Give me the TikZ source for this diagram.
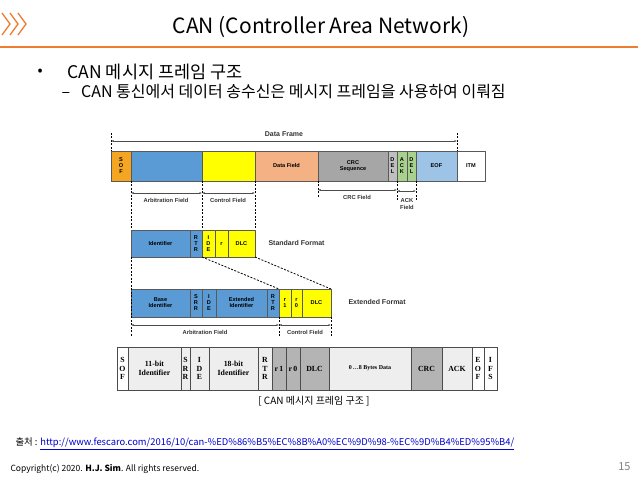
\documentclass[tikz,border=0pt]{standalone}
\usepackage{fontspec}
\setmainfont{Liberation Sans}
\newfontfamily\kr{Noto Sans CJK KR}
\newfontfamily\serifb{Liberation Serif}
\usetikzlibrary{arrows.meta}
\definecolor{org}{HTML}{ED7D31}
\definecolor{sof}{HTML}{F4A623}
\definecolor{blu}{HTML}{5B9BD5}
\definecolor{yel}{HTML}{FFFF00}
\definecolor{dat}{HTML}{F4B183}
\definecolor{crc}{HTML}{A6A6A6}
\definecolor{del}{HTML}{BFBFBF}
\definecolor{grn}{HTML}{A9D18E}
\definecolor{eof}{HTML}{9DC3E6}
\definecolor{lg}{HTML}{EEEEEE}
\definecolor{dg}{HTML}{B4B4B4}
\newcommand\fld[6]{\draw[draw=gray!70!black,line width=0.5pt,fill=#5] (#1,#3) rectangle (#2,#4);
  \node[font=\bfseries\fontsize{5.6}{6}\selectfont,align=center,inner sep=0pt] at ({(#1+#2)/2},{(#3+#4)/2}) {#6};}
\newcommand\tfld[6]{\draw[draw=gray!60!black,line width=0.5pt,fill=#5] (#1,#3) rectangle (#2,#4);
  \node[font=\serifb\bfseries\fontsize{7.8}{8.4}\selectfont,align=center,inner sep=0pt] at ({(#1+#2)/2},{(#3+#4)/2}) {#6};}
\tikzset{dl/.style={dashed,line width=0.8pt,dash pattern=on 2pt off 1.5pt},
  dim/.style={{Latex[length=2.5pt]}-{Latex[length=2.5pt]},line width=0.4pt,gray!60!black},
  lab/.style={font=\bfseries\fontsize{5.8}{6.6}\selectfont,align=center,text=black!80}}
\begin{document}
\begin{tikzpicture}[x=1pt,y=-1pt]
\useasboundingbox (0,0) rectangle (638,478);
% header
\foreach \dx in {0,8,16}{\draw[org,line width=1.3pt] (2+\dx,13) -- (10+\dx,24) -- (2+\dx,35);}
\node[font=\kr\fontsize{21}{21}\selectfont] (title) at (321,27) {CAN (Controller Area Network)};
\draw[org,line width=1.5pt] (0,47) -- (638,47);
\node[font=\kr\fontsize{15}{15}\selectfont,anchor=west] (b1) at (34,72) {•};
\node[font=\kr\fontsize{17.5}{17.5}\selectfont,anchor=west] (t1) at (64,72) {CAN 메시지 프레임 구조};
\node[font=\kr\fontsize{16}{16}\selectfont,anchor=west] (t2) at (58,92) {–\hspace{11pt}CAN 통신에서 데이터 송수신은 메시지 프레임을 사용하여 이뤄짐};
% top frame
\fld{111}{131}{151}{181}{sof}{S\\O\\F}
\fld{131}{202}{151}{181}{blu}{}
\fld{202}{255}{151}{181}{yel}{}
\fld{255}{318}{151}{181}{dat}{Data Field}
\fld{318}{388}{151}{181}{crc}{CRC\\Sequence}
\fld{388}{397}{151}{181}{del}{D\\E\\L}
\fld{397}{407}{151}{181}{grn}{A\\C\\K}
\fld{407}{416}{151}{181}{grn}{D\\E\\L}
\fld{416}{457}{151}{181}{eof}{EOF}
\fld{457}{485}{151}{181}{white}{ITM}
\draw[dl] (111,133) -- (111,151); \draw[dl] (457,133) -- (457,151);
\draw[dim] (111,141) -- (457,141);
\node[lab,font=\bfseries\fontsize{7}{7}\selectfont] at (284,134) {Data Frame};
\draw[dl] (131,181) -- (131,230); \draw[dl] (202,181) -- (202,230); \draw[dl] (255,181) -- (255,230);
\draw[dl] (318,181) -- (318,197); \draw[dl] (397,181) -- (397,200); \draw[dl] (416,181) -- (416,200);
\draw[dim] (131,193) -- (202,193); \draw[dim] (202,193) -- (255,193);
\draw[dim] (318,190) -- (397,190); \draw[dim] (397,191) -- (416,191);
\node[lab] at (166,200) {Arbitration Field};
\node[lab] at (228,200) {Control Field};
\node[lab] at (357,197) {CRC Field};
\node[lab] at (407,204) {ACK\\Field};
% standard format
\fld{131}{190}{230}{257}{blu}{Identifier}
\fld{190}{202}{230}{257}{blu}{R\\T\\R}
\fld{202}{215}{230}{257}{yel}{I\\D\\E}
\fld{215}{228}{230}{257}{yel}{r}
\fld{228}{255}{230}{257}{yel}{DLC}
\node[lab,anchor=west,font=\bfseries\fontsize{7}{7}\selectfont] at (265,243) {Standard Format};
\draw[dl] (202,257) -- (279,289); \draw[dl] (255,257) -- (331,289);
% extended format
\fld{131}{190}{289}{317}{blu}{Base\\Identifier}
\fld{190}{202}{289}{317}{blu}{S\\R\\R}
\fld{202}{216}{289}{317}{blu}{I\\D\\E}
\fld{216}{267}{289}{317}{blu}{Extended\\Identifier}
\fld{267}{279}{289}{317}{blu}{R\\T\\R}
\fld{279}{291}{289}{317}{yel}{r\\1}
\fld{291}{302}{289}{317}{yel}{r\\0}
\fld{302}{331}{289}{317}{yel}{DLC}
\node[lab,anchor=west,font=\bfseries\fontsize{7}{7}\selectfont] at (345,302) {Extended Format};
\draw[dl] (131,257) -- (131,336); \draw[dl] (279,317) -- (279,336); \draw[dl] (331,317) -- (331,336);
\draw[dim] (131,325) -- (279,325); \draw[dim] (279,325) -- (331,325);
\node[lab] at (205,332) {Arbitration Field};
\node[lab] at (305,332) {Control Field};
% bottom table
\tfld{117}{128}{347}{390}{white}{S\\O\\F}
\tfld{128}{181}{347}{390}{lg}{11-bit\\Identifier}
\tfld{181}{190}{347}{390}{lg}{S\\R\\R}
\tfld{190}{209}{347}{390}{lg}{I\\D\\E}
\tfld{209}{258}{347}{390}{lg}{18-bit\\Identifier}
\tfld{258}{272}{347}{390}{lg}{R\\T\\R}
\tfld{272}{286}{347}{390}{dg}{r\,1}
\tfld{286}{300}{347}{390}{dg}{r\,0}
\tfld{300}{329}{347}{390}{dg}{DLC}
\draw[draw=gray!60!black,line width=0.5pt,fill=lg] (329,347) rectangle (411,390);
\node[font=\serifb\bfseries\fontsize{6}{6}\selectfont] at (370,368.5) {0\,…8 Bytes Data};
\tfld{411}{442}{347}{390}{dg}{CRC}
\tfld{442}{472}{347}{390}{lg}{ACK}
\tfld{472}{484}{347}{390}{white}{E\\O\\F}
\tfld{484}{497}{347}{390}{white}{I\\F\\S}
\node[font=\kr\fontsize{10}{10}\selectfont] (cap) at (314,401) {[ CAN 메시지 프레임 구조 ]};
% footer
\node[font=\kr\fontsize{9.4}{9.4}\selectfont,anchor=west] (src) at (12,444) {출처 : \textcolor{blue!80!black}{\underline{http://www.fescaro.com/2016/10/can-\%ED\%86\%B5\%EC\%8B\%A0\%EC\%9D\%98-\%EC\%9D\%B4\%ED\%95\%B4/}}};
\node[font=\kr\fontsize{8.5}{8.5}\selectfont,anchor=west] (copy) at (7,469) {Copyright(c) 2020. \textbf{H.J. Sim}. All rights reserved.};
\node[font=\kr\fontsize{11}{11}\selectfont,anchor=east,text=gray] (pg) at (634,467) {15};
\end{tikzpicture}
\end{document}
